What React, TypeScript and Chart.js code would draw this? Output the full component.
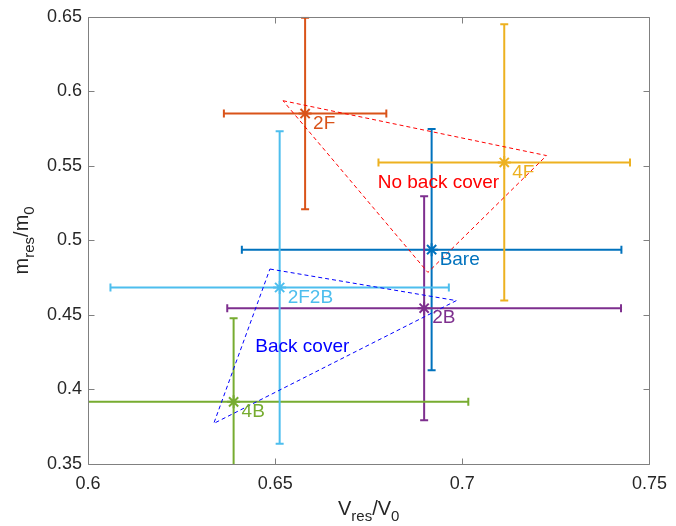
import React, { useEffect, useRef } from 'react';
import { Chart, registerables } from 'chart.js';

Chart.register(...registerables);

const names = ['Bare', '2F', '4F', '2B', '4B', '2F2B'];
const colors = ['#0072BD', '#D95319', '#EDB120', '#7E2F8E', '#77AC30', '#4DBEEE'];
const xValues = [0.6918, 0.658, 0.7112, 0.6898, 0.6389, 0.6512];
const yValues = [0.4938, 0.5851, 0.5523, 0.4545, 0.3917, 0.4684];
const xErrors = [0.0507, 0.0217, 0.0336, 0.0526, 0.0627, 0.0452];
const yErrors = [0.0809, 0.0642, 0.0927, 0.0752, 0.0561, 0.1048];

const noBackX = [0.6521, 0.7225, 0.6908, 0.6521];
const noBackY = [0.5937, 0.5569, 0.4785, 0.5937];
const backX = [0.6486, 0.6984, 0.6336, 0.6486];
const backY = [0.4808, 0.4596, 0.3772, 0.4808];

const groupLabels = ['No back cover', 'Back cover'];
const groupColors = ['#FF0000', '#0000FF'];
const groupLabelX = [0.6774, 0.6447];
const groupLabelY = [0.5386, 0.4289];

const xTicks = [0.6, 0.65, 0.7, 0.75];
const yTicks = [0.35, 0.4, 0.45, 0.5, 0.55, 0.6, 0.65];

const FONT = "'Liberation Sans', Arial, Helvetica, sans-serif";

export default function App() {
  const ref = useRef<HTMLCanvasElement>(null);

  useEffect(() => {
    const canvas = ref.current;
    if (!canvas) return;

    const errorBars = {
      id: 'errorBars',
      beforeDatasetsDraw(chart: any) {
        const { ctx, chartArea: a, scales } = chart;
        const xs = scales.x;
        const ys = scales.y;
        const cap = 4;
        ctx.save();
        ctx.beginPath();
        ctx.rect(a.left, a.top, a.right - a.left, a.bottom - a.top);
        ctx.clip();
        ctx.lineWidth = 2;
        names.forEach((_, i) => {
          const cx = xs.getPixelForValue(xValues[i]);
          const cy = ys.getPixelForValue(yValues[i]);
          const x0 = xs.getPixelForValue(xValues[i] - xErrors[i]);
          const x1 = xs.getPixelForValue(xValues[i] + xErrors[i]);
          const y0 = ys.getPixelForValue(yValues[i] - yErrors[i]);
          const y1 = ys.getPixelForValue(yValues[i] + yErrors[i]);
          ctx.strokeStyle = colors[i];
          ctx.beginPath();
          ctx.moveTo(x0, cy); ctx.lineTo(x1, cy);
          ctx.moveTo(x0, cy - cap); ctx.lineTo(x0, cy + cap);
          ctx.moveTo(x1, cy - cap); ctx.lineTo(x1, cy + cap);
          ctx.moveTo(cx, y0); ctx.lineTo(cx, y1);
          ctx.moveTo(cx - cap, y0); ctx.lineTo(cx + cap, y0);
          ctx.moveTo(cx - cap, y1); ctx.lineTo(cx + cap, y1);
          ctx.stroke();
        });
        ctx.restore();
      },
    };

    const drawRich = (ctx: CanvasRenderingContext2D, parts: { t: string; sub: boolean }[]) => {
      const mainFont = `20px ${FONT}`;
      const subFont = `15px ${FONT}`;
      let w = 0;
      parts.forEach((p) => {
        ctx.font = p.sub ? subFont : mainFont;
        w += ctx.measureText(p.t).width;
      });
      let px = -w / 2;
      ctx.textAlign = 'left';
      ctx.textBaseline = 'alphabetic';
      parts.forEach((p) => {
        ctx.font = p.sub ? subFont : mainFont;
        ctx.fillText(p.t, px, p.sub ? 6 : 0);
        px += ctx.measureText(p.t).width;
      });
    };

    const decorations = {
      id: 'decorations',
      afterDatasetsDraw(chart: any) {
        const { ctx, chartArea: a, scales } = chart;
        const xs = scales.x;
        const ys = scales.y;
        ctx.save();
        ctx.font = `19px ${FONT}`;
        ctx.textAlign = 'left';
        ctx.textBaseline = 'middle';
        names.forEach((n, i) => {
          ctx.fillStyle = colors[i];
          ctx.fillText(n, xs.getPixelForValue(xValues[i]) + 8, ys.getPixelForValue(yValues[i]) + 10);
        });
        groupLabels.forEach((g, i) => {
          ctx.fillStyle = groupColors[i];
          ctx.fillText(g, xs.getPixelForValue(groupLabelX[i]), ys.getPixelForValue(groupLabelY[i]));
        });
        ctx.strokeStyle = '#808080';
        ctx.lineWidth = 1;
        const L = Math.round(a.left) + 0.5;
        const R = Math.round(a.right) + 0.5;
        const T = Math.round(a.top) + 0.5;
        const B = Math.round(a.bottom) + 0.5;
        ctx.beginPath();
        ctx.rect(L, T, R - L, B - T);
        const tl = 6;
        xTicks.forEach((v) => {
          const px = Math.round(xs.getPixelForValue(v)) + 0.5;
          ctx.moveTo(px, B); ctx.lineTo(px, B - tl);
          ctx.moveTo(px, T); ctx.lineTo(px, T + tl);
        });
        yTicks.forEach((v) => {
          const py = Math.round(ys.getPixelForValue(v)) + 0.5;
          ctx.moveTo(L, py); ctx.lineTo(L + tl, py);
          ctx.moveTo(R, py); ctx.lineTo(R - tl, py);
        });
        ctx.stroke();
        ctx.restore();
      },
      afterDraw(chart: any) {
        const { ctx, chartArea: a } = chart;
        ctx.save();
        ctx.fillStyle = '#262626';
        ctx.translate((a.left + a.right) / 2, 515);
        drawRich(ctx, [
          { t: 'V', sub: false },
          { t: 'res', sub: true },
          { t: '/V', sub: false },
          { t: '0', sub: true },
        ]);
        ctx.restore();
        ctx.save();
        ctx.fillStyle = '#262626';
        ctx.translate(28, (a.top + a.bottom) / 2);
        ctx.rotate(-Math.PI / 2);
        drawRich(ctx, [
          { t: 'm', sub: false },
          { t: 'res', sub: true },
          { t: '/m', sub: false },
          { t: '0', sub: true },
        ]);
        ctx.restore();
      },
    };

    const datasets: any[] = [];
    names.forEach((n, i) => {
      datasets.push({
        label: n,
        data: [{ x: xValues[i], y: yValues[i] }],
        pointStyle: 'star',
        pointRadius: 6.5,
        pointBorderWidth: 2,
        borderColor: colors[i],
        backgroundColor: colors[i],
        showLine: false,
        order: 1,
      });
    });
    datasets.push({
      label: groupLabels[0],
      data: noBackX.map((x, i) => ({ x, y: noBackY[i] })),
      showLine: true,
      borderColor: groupColors[0],
      borderWidth: 1,
      borderDash: [4, 3],
      pointRadius: 0,
      fill: false,
      order: 0,
    });
    datasets.push({
      label: groupLabels[1],
      data: backX.map((x, i) => ({ x, y: backY[i] })),
      showLine: true,
      borderColor: groupColors[1],
      borderWidth: 1,
      borderDash: [4, 3],
      pointRadius: 0,
      fill: false,
      order: 0,
    });

    const fmt = (v: any) => String(Math.round(Number(v) * 100) / 100);

    const chart = new Chart(canvas, {
      type: 'scatter',
      data: { datasets },
      options: {
        animation: false,
        responsive: false,
        layout: { padding: { top: 15, right: 16, left: 0, bottom: 0 } },
        plugins: { legend: { display: false }, tooltip: { enabled: false } },
        scales: {
          x: {
            type: 'linear',
            min: 0.6,
            max: 0.75,
            afterBuildTicks: (s: any) => { s.ticks = xTicks.map((v) => ({ value: v })); },
            afterFit: (s: any) => { s.height = 62; },
            grid: { display: false, drawTicks: false },
            border: { display: false },
            ticks: {
              callback: fmt,
              color: '#262626',
              font: { family: FONT, size: 18 },
              padding: 9,
              maxRotation: 0,
              autoSkip: false,
            },
          },
          y: {
            type: 'linear',
            min: 0.35,
            max: 0.65,
            afterBuildTicks: (s: any) => { s.ticks = yTicks.map((v) => ({ value: v })); },
            afterFit: (s: any) => { s.width = 88; },
            grid: { display: false, drawTicks: false },
            border: { display: false },
            ticks: {
              callback: fmt,
              color: '#262626',
              font: { family: FONT, size: 18 },
              padding: 6,
              autoSkip: false,
            },
          },
        },
      } as any,
      plugins: [errorBars, decorations],
    });

    return () => chart.destroy();
  }, []);

  return (
    <div style={{ position: 'absolute', left: 0, top: 0, width: 676, height: 526, background: '#fff' }}>
      <canvas ref={ref} width={676} height={526} style={{ display: 'block' }} />
    </div>
  );
}
